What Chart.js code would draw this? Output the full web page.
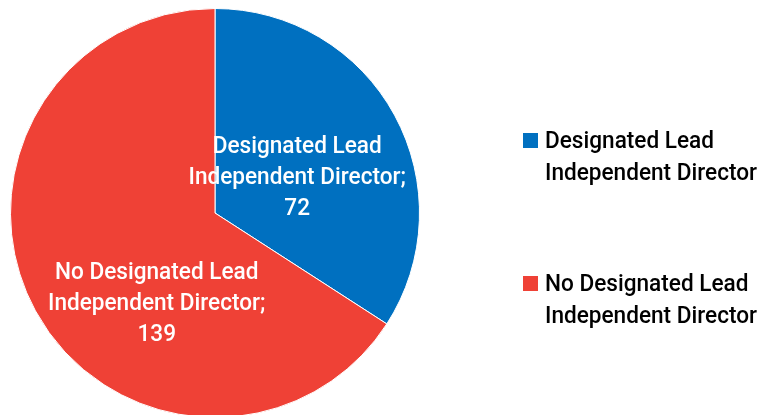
<!DOCTYPE html>
<html>
<head>
<meta charset="utf-8">
<script src="https://cdn.jsdelivr.net/npm/chart.js@4"></script>
<style>
  html, body { margin: 0; padding: 0; background: #fff; overflow: hidden; }
  #wrap { position: absolute; left: 0; top: 0; width: 766px; height: 420px; }
</style>
</head>
<body>
<div id="wrap"><canvas id="chart" width="766" height="420"></canvas></div>
<script>
// chart data
const categories = ['Designated Lead Independent Director', 'No Designated Lead Independent Director'];
const categoryLines = [['Designated Lead', 'Independent Director'], ['No Designated Lead', 'Independent Director']];
const values = [72, 139];
const colors = ['#0070C0', '#EF4136'];

const FONT = '500 24px Roboto, "Liberation Sans", Arial, sans-serif';
let scaleX = 1; // squeeze to look like a condensed face, set from a measured width

function drawText(ctx, text, x, y, align) {
    ctx.save();
    ctx.translate(x, y);
    ctx.scale(scaleX, 1);
    ctx.textAlign = align;
    ctx.fillText(text, 0, 0);
    ctx.restore();
}

// labels inside the slices, placed relative to the pie centre
const labelOffsets = [[0.402, -0.293], [-0.285, 0.322]];
const sliceLabels = {
    id: 'sliceLabels',
    afterDatasetsDraw(chart) {
        const ctx = chart.ctx;
        const meta = chart.getDatasetMeta(0);
        ctx.save();
        ctx.font = FONT;
        scaleX = 169 / ctx.measureText('Designated Lead').width;
        ctx.fillStyle = '#ffffff';
        ctx.textBaseline = 'alphabetic';
        meta.data.forEach((arc, i) => {
            const r = arc.outerRadius;
            const x = arc.x + labelOffsets[i][0] * r;
            let y = arc.y + labelOffsets[i][1] * r;
            const lines = categoryLines[i].slice();
            lines[lines.length - 1] += ';';
            lines.push(String(values[i]));
            lines.forEach((line) => {
                drawText(ctx, line, x, y, 'center');
                y += 31;
            });
        });
        ctx.restore();
    }
};

// legend on the right with two-line entries
const sideLegend = {
    id: 'sideLegend',
    afterDraw(chart) {
        const ctx = chart.ctx;
        const tops = [148, 291];
        ctx.save();
        ctx.font = FONT;
        scaleX = 169 / ctx.measureText('Designated Lead').width;
        ctx.textBaseline = 'alphabetic';
        categoryLines.forEach((lines, i) => {
            ctx.fillStyle = colors[i];
            ctx.fillRect(523, tops[i] - 15, 15, 15);
            ctx.fillStyle = '#000000';
            lines.forEach((line, j) => {
                drawText(ctx, line, 545, tops[i] + j * 31.5, 'left');
            });
        });
        ctx.restore();
    }
};

new Chart(document.getElementById('chart'), {
    type: 'pie',
    data: {
        labels: categories,
        datasets: [{
            data: values,
            backgroundColor: colors,
            borderColor: '#ffffff',
            borderWidth: 1
        }]
    },
    options: {
        responsive: false,
        animation: false,
        events: [],
        layout: { padding: { left: 10, right: 346, top: 8, bottom: 2 } },
        plugins: {
            legend: { display: false },
            tooltip: { enabled: false }
        }
    },
    plugins: [sliceLabels, sideLegend]
});
</script>
</body>
</html>
